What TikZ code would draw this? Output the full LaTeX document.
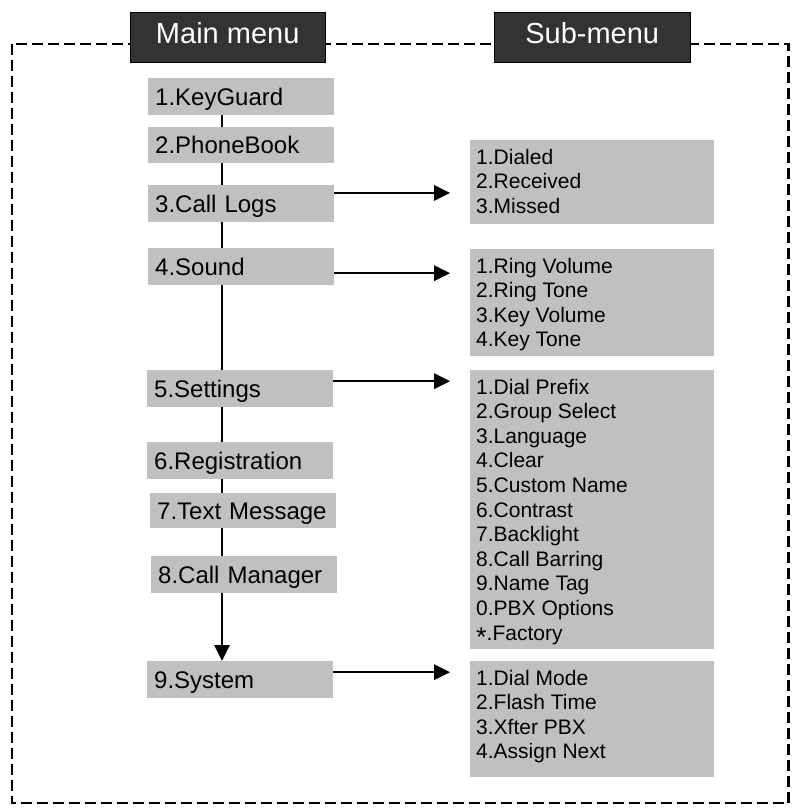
\documentclass[tikz,border=0pt]{standalone}
\usepackage{fontspec}
\setmainfont{Liberation Sans}
\usetikzlibrary{positioning, calc, arrows.meta}
\tikzset{
    Arrow/.style = {
        line width=1.8pt,
        -{Triangle[length=16pt, width=15.5pt]}
    },
    mainbox/.style = {
        fill=boxFill, anchor=north west, align=left,
        text width=172pt, inner xsep=7pt, inner ysep=0pt,
        minimum height=37pt, text height=17pt, text depth=0pt,
        font=\fontsize{24}{28}\selectfont
    },
    subbox/.style = {
        fill=boxFill, anchor=north west,
        inner xsep=6pt, inner ysep=0pt,
        font=\fontsize{21}{24.6}\selectfont
    },
    menuhead/.style = {
        fill=headFill, draw=black, text=white, anchor=north west,
        minimum width=195pt, minimum height=50pt, inner sep=0pt,
        text height=21pt, text depth=8pt,
        font=\fontsize{29}{34}\selectfont
    },
    menuframe/.style = {line width=2.5pt, dash pattern=on 10.7pt off 5.3pt}
}
\definecolor{boxFill}{HTML}{C0C0C0}
\definecolor{headFill}{HTML}{333333}
\newcommand{\sublines}[2]{\parbox[c][#1][t]{232pt}{\raggedright\vspace*{8.7pt}#2}}
\newcommand{\bigstar}{\raisebox{-0.3em}{\fontsize{27}{27}\selectfont *}}

\begin{document}
\begin{tikzpicture}[x=1pt, y=-1pt]
    \useasboundingbox (0,0) rectangle (798,812);
    % dashed outline, headers sit on top of it
    \draw [menuframe] (12,44) rectangle (788.5,803);
    \node [menuhead] (MainHead) at (130,12) {Main menu};
    \node [menuhead, minimum width=196pt] (SubHead) at (494,12) {Sub-menu};
    % main menu
    \node [mainbox] (KeyGuard) at (148,78) {1.KeyGuard};
    \node [mainbox, minimum height=36pt] (PhoneBook) at (148,127) {2.PhoneBook};
    \node [mainbox] (CallLogs) at (148,185) {3.Call Logs};
    \node [mainbox] (Sound) at (148,248) {4.Sound};
    \node [mainbox] (Settings) at (147,370) {5.Settings};
    \node [mainbox] (Registration) at (147,442) {6.Registration};
    \node [mainbox, minimum height=35pt] (TextMsg) at (150,493) {7.Text Message};
    \node [mainbox] (CallMgr) at (151,556) {8.Call Manager};
    \node [mainbox] (System) at (147,661) {9.System};
    % sub-menus
    \node [subbox] (CallSub) at (470,140) {\sublines{84pt}{1.Dialed\\2.Received\\3.Missed}};
    \node [subbox] (SoundSub) at (470,249) {\sublines{107pt}{1.Ring Volume\\2.Ring Tone\\3.Key Volume\\4.Key Tone}};
    \node [subbox] (SetSub) at (470,370) {\sublines{279pt}{1.Dial Prefix\\2.Group Select\\3.Language\\4.Clear\\5.Custom Name\\6.Contrast\\7.Backlight\\8.Call Barring\\9.Name Tag\\0.PBX Options\\\bigstar.Factory}};
    \node [subbox] (SysSub) at (470,661) {\sublines{116pt}{1.Dial Mode\\2.Flash Time\\3.Xfter PBX\\4.Assign Next}};
    % spine
    \coordinate (spine) at (222,0);
    \foreach \a/\b in {KeyGuard/PhoneBook, PhoneBook/CallLogs, CallLogs/Sound, Sound/Settings, Settings/Registration, Registration/TextMsg, TextMsg/CallMgr}
        \draw [line width=1.8pt] (\a.south -| spine) to (\b.north -| spine);
    \draw [Arrow] (CallMgr.south -| spine) to (System.north -| spine);
    % arrows to the sub-menus
    \foreach \m/\s/\dy in {CallLogs/CallSub/10.8, Sound/SoundSub/-6.5, Settings/SetSub/7.5, System/SysSub/7.5}
        \draw [Arrow, shorten >=20pt] ([yshift=\dy pt]\m.east) to ([yshift=\dy pt]\m.east -| \s.west);
\end{tikzpicture}
\end{document}
